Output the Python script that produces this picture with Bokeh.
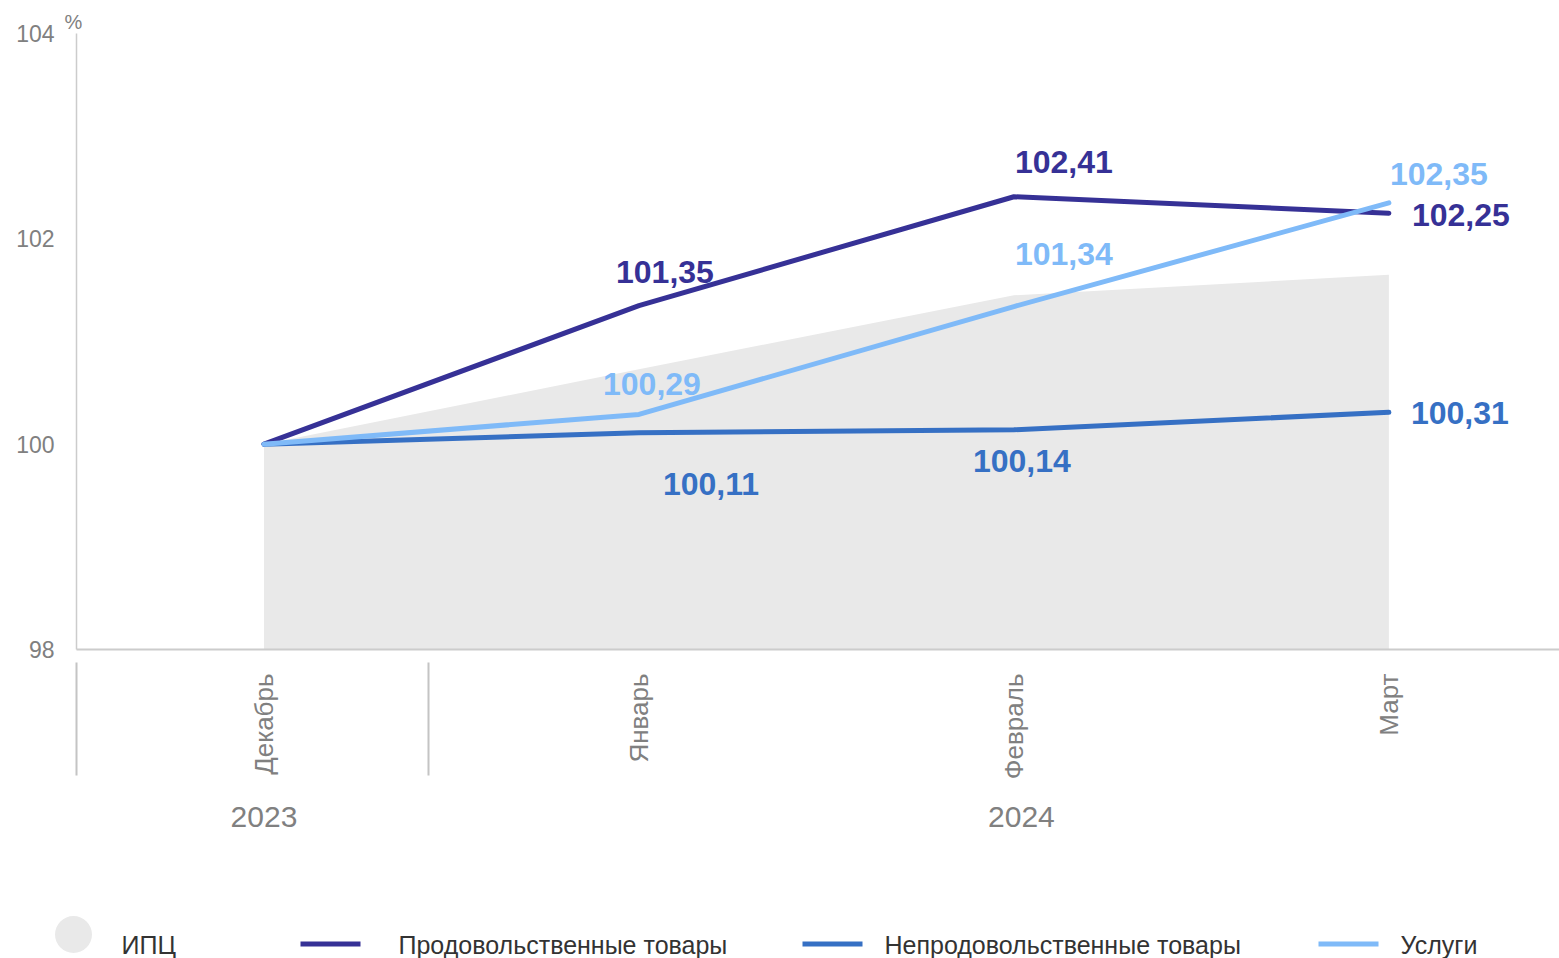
from math import pi
from bokeh.plotting import figure
from bokeh.models import Range1d, FixedTicker, LinearAxis, ColumnDataSource
from bokeh.layouts import column, row
from bokeh.embed import file_html
from bokeh.resources import INLINE
from bokeh.core.properties import value

# ---------------- data ----------------
months = ["Декабрь", "Январь", "Февраль", "Март"]
years = ["2023", "2024"]
ipc = [100.0, 100.73, 101.45, 101.65]
food = [100.0, 101.35, 102.41, 102.25]
nonfood = [100.0, 100.11, 100.14, 100.31]
services = [100.0, 100.29, 101.34, 102.35]
y_ticks = [98, 100, 102, 104]
legend_labels = ["ИПЦ", "Продовольственные товары", "Непродовольственные товары", "Услуги"]

# ---------------- styles ----------------
FONT = "Liberation Sans"
C_IPC = "#e9e9e9"
C_FOOD = "#363196"
C_NONFOOD = "#3670c4"
C_SERV = "#7fbaf8"
GRAY_TXT = "#808080"
AXIS_C = "#cccccc"

# label offsets in pixels (x right, y down) for months 1..3
food_off = [(26, -34), (50, -35), (72, 2)]
nonfood_off = [(72, 51), (8, 31), (71, 1)]
serv_off = [(13, -30), (50, -53), (50, -29)]

x = list(range(len(months)))
year_pos = [0, 2.02]
separators = [-0.5, 0.44]

p = figure(width=1559, height=900,
           x_range=Range1d(-0.5, 3.455), y_range=Range1d(98, 104),
           output_backend="svg", toolbar_location=None,
           min_border_left=76, min_border_right=0, min_border_top=33, min_border_bottom=251)
p.outline_line_color = None
p.grid.visible = False

# "%" unit as title
p.title.text = "%"
p.title.align = "left"
p.title.offset = -12
p.title.standoff = 2
p.title.text_font = FONT
p.title.text_font_size = "20px"
p.title.text_font_style = "normal"
p.title.text_color = GRAY_TXT

# CPI area
p.varea(x=x, y1=[y_ticks[0]] * len(x), y2=ipc, fill_color=C_IPC, fill_alpha=1.0)

for series, col in [(food, C_FOOD), (nonfood, C_NONFOOD), (services, C_SERV)]:
    p.line(x=x, y=series, line_color=col, line_width=5, line_cap="round", line_join="round")


def fmt(v):
    return f"{v:.2f}".replace(".", ",")


for series, col, offs in [(food, C_FOOD, food_off), (nonfood, C_NONFOOD, nonfood_off),
                          (services, C_SERV, serv_off)]:
    src = ColumnDataSource(dict(
        x=x[1:], y=series[1:], t=[fmt(v) for v in series[1:]],
        xo=[o[0] for o in offs], yo=[o[1] for o in offs]))
    p.text(x="x", y="y", text="t", source=src, x_offset="xo", y_offset="yo",
           text_font=value(FONT), text_font_style="bold", text_font_size="32px",
           text_color=col, text_align="center", text_baseline="middle")

# y axis
ya = p.yaxis[0]
ya.ticker = FixedTicker(ticks=y_ticks)
ya.major_label_text_font = FONT
ya.major_label_text_font_size = "23px"
ya.major_label_text_color = GRAY_TXT
ya.major_tick_line_color = None
ya.minor_tick_line_color = None
ya.axis_line_color = AXIS_C
ya.axis_line_width = 1.5
ya.major_label_standoff = 16

# x axis (months)
xa = p.xaxis[0]
xa.ticker = FixedTicker(ticks=x)
xa.major_label_overrides = {i: m for i, m in zip(x, months)}
xa.major_label_orientation = pi / 2
xa.major_label_text_font = FONT
xa.major_label_text_font_size = "26px"
xa.major_label_text_color = GRAY_TXT
xa.major_tick_in = 0
xa.major_tick_out = 0
xa.minor_tick_line_color = None
xa.major_label_standoff = 24
xa.axis_line_color = AXIS_C
xa.axis_line_width = 2

# second x axis (years + group separators)
xa2 = LinearAxis(ticker=FixedTicker(ticks=year_pos, minor_ticks=separators),
                 major_label_overrides={k: v for k, v in zip(year_pos, years)})
xa2.axis_line_color = None
xa2.major_tick_in = 0
xa2.major_tick_out = 0
xa2.minor_tick_in = 120
xa2.minor_tick_out = -7
xa2.minor_tick_line_color = "#c4c4c4"
xa2.minor_tick_line_width = 2
xa2.major_label_text_font = FONT
xa2.major_label_text_font_size = "30px"
xa2.major_label_text_color = GRAY_TXT
xa2.major_label_standoff = 24
p.add_layout(xa2, "below")

# ---------------- legend ----------------
LEG_W, LEG_H = 1559, 58
leg = figure(width=LEG_W, height=LEG_H, x_range=Range1d(0, LEG_W), y_range=Range1d(0, LEG_H),
             output_backend="svg", toolbar_location=None, x_axis_type=None, y_axis_type=None,
             min_border=0, min_border_left=0, min_border_right=0, min_border_top=0, min_border_bottom=0)
leg.outline_line_color = None
leg.grid.visible = False

leg.scatter(x=[73], y=[24], size=37, marker="circle", fill_color=C_IPC, line_color=None)
line_x = [300, 802, 1318]
for lx, col in zip(line_x, [C_FOOD, C_NONFOOD, C_SERV]):
    leg.segment(x0=[lx], y0=[14.5], x1=[lx + 60], y1=[14.5], line_color=col, line_width=5)
text_x = [121, 398, 884, 1400]
leg.text(x=text_x, y=[14] * 4, text=legend_labels, text_font=value(FONT), text_font_size="25px",
         text_color="#333333", text_align="left", text_baseline="middle")

layout = column(p, row(leg), spacing=0)
open("out.html", "w").write(file_html(layout, INLINE))
